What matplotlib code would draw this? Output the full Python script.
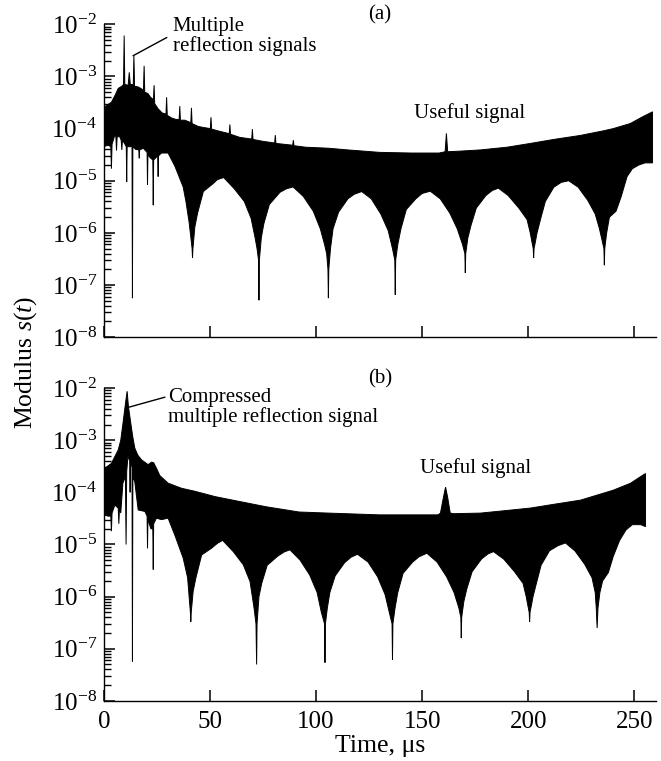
import numpy as np
import matplotlib
matplotlib.use("Agg")
import matplotlib.pyplot as plt
from matplotlib.ticker import FixedLocator, NullFormatter

plt.rcParams['font.family'] = ['Liberation Serif', 'DejaVu Serif']
plt.rcParams['mathtext.fontset'] = 'custom'
plt.rcParams['mathtext.rm'] = 'Liberation Serif'
plt.rcParams['mathtext.it'] = 'Liberation Serif:italic'

# panel (a): upper and lower envelope of |s(t)|
up_a_t = [0, 1.5, 3.6, 5.5, 6.8, 8.5, 9.3, 9.6, 9.9, 11.5, 12.0, 12.5, 13.9, 14.2, 14.5,
          16.2, 18.7, 19.0, 19.3, 20.8, 22.0, 23.4, 23.7, 24.0, 25.6, 27.5, 29.3, 29.6, 29.9,
          31.9, 34, 35.5, 35.8, 36.1, 38.2, 41.0, 41.3, 41.6, 44.5, 47, 50.2, 50.5, 50.8,
          54, 59.1, 59.4, 59.7, 64, 69.7, 70.0, 70.3, 75, 80.5, 80.8, 81.1, 85, 89.0, 89.3,
          89.6, 95, 106, 115, 130, 145, 158, 160.8, 161.4, 162.0, 168, 177.4, 190, 201, 212,
          224.5, 235, 240, 248, 254, 258.5]
up_a_v = [2.5e-4, 2.8e-4, 3.2e-4, 4.5e-4, 5.9e-4, 6.5e-4, 7e-4, 6.1e-3, 7e-4, 6.8e-4, 1.2e-3, 7e-4,
          7e-4, 2.5e-3, 6.5e-4, 6.3e-4, 5.5e-4, 1.6e-3, 5e-4, 4.7e-4, 4e-4, 3.6e-4, 6.8e-4, 3e-4,
          2.4e-4, 2e-4, 1.9e-4, 4e-4, 1.8e-4, 1.6e-4, 1.5e-4, 1.5e-4, 2.7e-4, 1.45e-4, 1.45e-4,
          1.3e-4, 2.5e-4, 1.25e-4, 1.1e-4, 1.05e-4, 1.0e-4, 1.65e-4, 9.8e-5, 9e-5, 8e-5, 1.2e-4,
          7.8e-5, 6.8e-5, 6.3e-5, 9.8e-5, 6.2e-5, 5.7e-5, 5.3e-5, 7.5e-5, 5.2e-5, 5e-5, 4.8e-5,
          6e-5, 4.7e-5, 4.4e-5, 4.2e-5, 3.9e-5, 3.5e-5, 3.4e-5, 3.4e-5, 3.6e-5, 8.1e-5, 3.6e-5,
          3.7e-5, 3.9e-5, 4.4e-5, 5.2e-5, 6.2e-5, 7.4e-5, 9e-5, 1e-4, 1.25e-4, 1.7e-4, 2.1e-4]
low_a_t = [0, 2.0, 3.3, 3.6, 3.9, 5.2, 5.7, 6.0, 6.3, 7.5, 8.2, 8.5, 8.8, 10.0, 10.6, 10.8, 11.0,
           12.2, 13.3, 13.5, 13.7, 15, 16.5, 16.7, 16.9, 18.6, 20.4, 20.6, 20.8, 21.7, 23.1,
           23.3, 23.5, 25.4, 25.6, 25.8, 27.2, 30.3, 33.5, 37.4, 38.7, 40.2, 40.9, 41.6, 41.8,
           42.0, 42.9, 44.2, 46.9, 51.5, 53.5, 56.5, 61.5, 66.2, 69.4, 71.3, 72.2, 72.9, 73.1,
           73.3, 74.2, 75.4, 78.0, 83, 86, 89.2, 94, 98.7, 102, 104, 105.0, 105.6, 105.8, 106.0,
           106.8, 108, 110.6, 115, 118, 121.5, 126, 130.5, 134, 136, 137.1, 137.3, 137.5, 138.5,
           140, 142.5, 147, 150, 153.8, 158.5, 163, 166.5, 169, 170.1, 170.3, 170.5, 171.5, 173,
           175.5, 180, 183, 185.9, 190.5, 195.5, 199.4, 200.9, 201.6, 202.3, 202.5, 202.7, 203.4,
           204.1, 205.7, 208, 212, 215.5, 219, 223.5, 228, 231.5, 233.5, 234.8, 235.6, 235.8,
           236.0, 236.9, 238.2, 241.3, 243.7, 246.5, 249, 252, 255, 258.5]
low_a_v = [4.5e-5, 4.8e-5, 4.5e-5, 1.7e-5, 5e-5, 7.5e-5, 7e-5, 3.8e-5, 7e-5, 7e-5, 6e-5, 3.9e-5,
           6e-5, 5e-5, 4.5e-5, 9.5e-6, 4.5e-5, 4.5e-5, 4.5e-5, 5.6e-8, 4.5e-5, 4e-5, 3.9e-5,
           2.7e-5, 3.9e-5, 4.2e-5, 3.5e-5, 8.3e-6, 3.2e-5, 2.8e-5, 2.5e-5, 3.4e-6, 2.5e-5, 3e-5,
           1.2e-5, 3e-5, 3.4e-5, 3.4e-5, 1.9e-5, 7.6e-6, 4e-6, 1.6e-6, 9e-7, 5e-7, 3.3e-7,
           5e-7, 1.3e-6, 2.4e-6, 6.2e-6, 8.8e-6, 1.05e-5, 1.15e-5, 7e-6, 4e-6, 1.9e-6, 8e-7, 5e-7,
           3e-7, 5.1e-8, 3e-7, 8e-7, 1.5e-6, 3.5e-6, 6e-6, 7e-6, 7.6e-6, 5e-6, 2.6e-6, 1.2e-6,
           6e-7, 4e-7, 2e-7, 5.6e-8, 2e-7, 5e-7, 1.2e-6, 2.5e-6, 4.5e-6, 5.5e-6, 6.2e-6, 4.5e-6,
           2.3e-6, 1.1e-6, 5e-7, 3e-7, 6.5e-8, 3e-7, 6e-7, 1.2e-6, 2.8e-6, 4.5e-6, 5.7e-6, 6.3e-6,
           4.5e-6, 2.4e-6, 1.2e-6, 6e-7, 4e-7, 1.7e-7, 4e-7, 8e-7, 1.4e-6, 3e-6, 5.2e-6, 6.5e-6,
           7.2e-6, 5.2e-6, 3e-6, 1.8e-6, 1e-6, 7e-7, 5e-7, 3.3e-7, 5e-7, 7e-7, 1e-6, 1.8e-6, 4e-6,
           7.5e-6, 9.3e-6, 1e-5, 7.5e-6, 4.2e-6, 2.3e-6, 1.2e-6, 7e-7, 5e-7, 2.4e-7, 5e-7, 1e-6,
           2e-6, 2.6e-6, 4.9e-6, 1.2e-5, 1.7e-5, 2e-5, 2.2e-5, 2.2e-5]

# panel (b): after compression
up_b_t = [0, 3.6, 6.8, 8.0, 9.1, 10.2, 11.0, 11.6, 12.6, 13.6, 14.6, 16, 17.8, 20.9, 22.5, 23.5,
          25, 26.4, 30.3, 36.6, 42.9, 52.4, 60.7, 76.4, 92, 106, 130, 157.5, 158.6, 160, 161.0,
          162, 163.2, 165, 177.4, 190, 201, 212, 224.6, 240, 248.2, 252, 255.2]
up_b_v = [2.8e-4, 3.6e-4, 6.5e-4, 1.0e-3, 2.2e-3, 5e-3, 8.7e-3, 4.5e-3, 2.3e-3, 1.2e-3, 7.1e-4,
          5.2e-4, 4.2e-4, 3.4e-4, 3.8e-4, 3.7e-4, 2.8e-4, 2.1e-4, 1.5e-4, 1.2e-4, 1.05e-4, 8.3e-5,
          7.1e-5, 5.3e-5, 4.2e-5, 4e-5, 3.7e-5, 3.7e-5, 4e-5, 8e-5, 1.26e-4, 8e-5, 4e-5, 3.9e-5,
          4e-5, 4.5e-5, 5e-5, 5.9e-5, 7.1e-5, 1.1e-4, 1.5e-4, 1.9e-4, 2.3e-4]
low_b_t = [0, 2.0, 3.3, 3.6, 3.9, 5.2, 6.8, 7.1, 7.4, 8.0, 9.0, 10.2, 10.5, 10.8, 11.4, 12.2,
           12.4, 12.6, 13.3, 13.5, 13.7, 14.6, 16.2, 19.4, 20.4, 20.6, 20.8, 22.2, 23.1, 23.3,
           23.5, 24.8, 27.2, 30.3, 33.5, 37.4, 39.5, 40.2, 40.8, 41.0, 41.2, 42.1, 43.4, 46.1,
           50.8, 53.5, 56, 61, 65.7, 68.9, 70.8, 71.7, 72.0, 72.2, 73.1, 74.4, 77, 82, 85, 87.7,
           92.5, 97, 100.5, 102.5, 104.0, 104.2, 104.4, 105.3, 106.5, 109, 113.5, 116.5, 119.5,
           124.5, 129, 132.5, 134.5, 135.8, 136.0, 136.2, 137.2, 138.5, 141, 145.5, 148.5, 152.2,
           157, 161.5, 165, 167.3, 168.2, 168.4, 168.6, 169.6, 171, 173.5, 178, 181, 183.6,
           188.5, 193.5, 197.5, 199, 199.7, 200.4, 200.6, 200.8, 201.5, 202.2, 203.8, 206, 210,
           214, 217.5, 222, 226.5, 230, 231.5, 232.0, 232.4, 232.8, 233.7, 235, 237.7, 240, 243,
           246, 249, 253, 255.2]
low_b_v = [3.7e-5, 3.5e-5, 3.5e-5, 1.8e-5, 4e-5, 5.7e-5, 5e-5, 2.5e-5, 5e-5, 4e-5, 1.5e-4, 2e-4,
           1e-5, 2.5e-4, 5e-4, 4e-4, 1e-4, 4e-4, 3e-4, 5.7e-8, 2e-4, 1.6e-4, 4.6e-5, 4.3e-5,
           3.5e-5, 8.5e-6, 3e-5, 2e-5, 2e-5, 3.3e-6, 2.5e-5, 3.2e-5, 3e-5, 3.2e-5, 1.5e-5,
           5.5e-6, 2.3e-6, 1e-6, 5e-7, 3.3e-7, 5e-7, 1.26e-6, 2.3e-6, 6.3e-6, 8.5e-6, 1.05e-5,
           1.2e-5, 7.3e-6, 4.1e-6, 1.95e-6, 6e-7, 3e-7, 5e-8, 3e-7, 1e-6, 1.8e-6, 4e-6, 6e-6,
           7.2e-6, 7.9e-6, 5e-6, 2.6e-6, 1.2e-6, 5e-7, 3e-7, 5.4e-8, 3e-7, 6e-7, 1.2e-6, 2.5e-6,
           4.5e-6, 5.7e-6, 6.5e-6, 4.6e-6, 2.4e-6, 1.1e-6, 5e-7, 3e-7, 6.2e-8, 3e-7, 6e-7, 1.2e-6,
           2.8e-6, 4.6e-6, 5.8e-6, 6.8e-6, 4.6e-6, 2.4e-6, 1.2e-6, 6e-7, 4e-7, 1.6e-7, 4e-7,
           8e-7, 1.4e-6, 3e-6, 5.3e-6, 6.6e-6, 7.3e-6, 5.2e-6, 3e-6, 1.8e-6, 1e-6, 7e-7, 5e-7,
           3.3e-7, 5e-7, 7e-7, 1e-6, 1.8e-6, 4e-6, 7.6e-6, 9.5e-6, 1.07e-5, 7.5e-6, 4.2e-6,
           2.3e-6, 1.2e-6, 6e-7, 2.5e-7, 6e-7, 1.2e-6, 2e-6, 2.9e-6, 5.9e-6, 1.2e-5, 1.9e-5,
           2.4e-5, 2.4e-5, 2.2e-5]

x_ticks = [0, 50, 100, 150, 200, 250]
y_decades = [-8, -7, -6, -5, -4, -3, -2]

major_y = [10.0 ** e for e in y_decades]
minor_y = [m * 10.0 ** e for e in y_decades[:-1] for m in range(2, 10)]

fig = plt.figure(figsize=(6.61, 7.61), dpi=100)
ax_a = fig.add_axes([0.157, 0.557, 0.835, 0.411])
ax_b = fig.add_axes([0.157, 0.079, 0.835, 0.411])

panels = [(ax_a, up_a_t, up_a_v, low_a_t, low_a_v),
          (ax_b, up_b_t, up_b_v, low_b_t, low_b_v)]
for ax, ut, uv, lt, lv in panels:
    xs = np.concatenate([ut, lt[::-1]])
    ys = np.concatenate([uv, lv[::-1]])
    ax.fill(xs, ys, facecolor='black', edgecolor='black', lw=0.7, zorder=1)
    ax.set_yscale('log')
    ax.set_ylim(1e-8, 1e-2)
    ax.set_xlim(0, 260)
    ax.set_xticks(x_ticks)
    ax.yaxis.set_major_locator(FixedLocator(major_y))
    ax.yaxis.set_minor_locator(FixedLocator(minor_y))
    ax.yaxis.set_minor_formatter(NullFormatter())
    ax.xaxis.set_minor_locator(FixedLocator([]))
    ax.spines['top'].set_visible(False)
    ax.spines['right'].set_visible(False)
    for s in ['left', 'bottom']:
        ax.spines[s].set_linewidth(1.0)
    ax.tick_params(which='major', direction='in', length=8, width=1.1, labelsize=18)
    ax.tick_params(which='minor', direction='in', length=5, width=1.0)
    ax.tick_params(axis='y', pad=5)
    ax.tick_params(axis='x', pad=7)

ax_a.tick_params(axis='x', labelbottom=False)

ax_a.text(0.5, 1.029, '(a)', transform=ax_a.transAxes, ha='center', va='center', fontsize=15)
ax_b.text(0.5, 1.029, '(b)', transform=ax_b.transAxes, ha='center', va='center', fontsize=15)

ax_a.annotate('', xy=(13.8, 2.5e-3), xytext=(29.7, 5.6e-3),
              arrowprops=dict(arrowstyle='-', color='black', lw=1.0, shrinkA=0, shrinkB=0))
ax_a.text(32.5, 5.9e-3, 'Multiple\nreflection signals', ha='left', va='center',
          fontsize=15, linespacing=1.0)
ax_a.text(172.2, 2.0e-4, 'Useful signal', ha='center', va='center', fontsize=15)

ax_b.annotate('', xy=(11.8, 4.3e-3), xytext=(28.8, 6.7e-3),
              arrowprops=dict(arrowstyle='-', color='black', lw=1.0, shrinkA=0, shrinkB=0))
ax_b.text(30.2, 4.2e-3, 'Compressed\nmultiple reflection signal', ha='left', va='center',
          fontsize=15, linespacing=1.0)
ax_b.text(175, 2.9e-4, 'Useful signal', ha='center', va='center', fontsize=15)

ax_b.set_xlabel('Time, μs', fontsize=18.5, labelpad=2)
fig.text(26 / 661, 1 - 362 / 761, 'Modulus $s(t)$', rotation=90, ha='center', va='center',
         fontsize=18.5)

fig.savefig('out.png', dpi=100)
